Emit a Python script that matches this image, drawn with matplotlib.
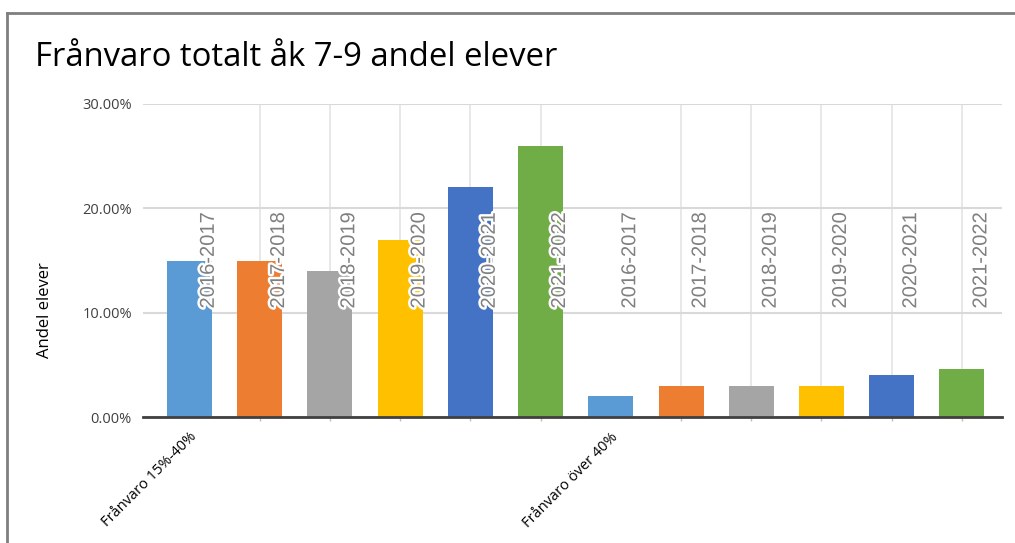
import numpy as np
import matplotlib
matplotlib.use("Agg")
import matplotlib.pyplot as plt
import matplotlib.patheffects as pe
from matplotlib.ticker import PercentFormatter

# data
categories = ["Frånvaro 15%-40%", "Frånvaro över 40%"]
years = ["2016-2017", "2017-2018", "2018-2019", "2019-2020", "2020-2021", "2021-2022"]
values_15_40 = [0.15, 0.15, 0.14, 0.17, 0.22, 0.26]
values_over_40 = [0.02, 0.03, 0.03, 0.03, 0.04, 0.046]
year_colors = ["#5B9BD5", "#ED7D31", "#A5A5A5", "#FFC000", "#4472C4", "#70AD47"]

plt.rcParams['font.family'] = ['Open Sans', 'DejaVu Sans']

fig = plt.figure(figsize=(10.15, 5.43), dpi=100)
ax = fig.add_axes([0.1409, 0.232, 0.8463, 0.5765])

all_values = values_15_40 + values_over_40
x = np.arange(len(all_values))
colors = year_colors * len(categories)
labels = years * len(categories)

ax.bar(x, all_values, width=0.64, color=colors, zorder=3)

# year labels drawn at a fixed height, like the Excel data labels
for xi, lab in zip(x, labels):
    ax.text(xi + 0.27, 0.104, lab, rotation=90, ha='center', va='bottom',
            fontsize=14.5, color='#808080', family='Liberation Sans', zorder=5,
            path_effects=[pe.withStroke(linewidth=3.5, foreground='white')])

ax.set_ylim(0, 0.30)
ax.set_xlim(-0.66, len(all_values) - 0.43)
ax.set_yticks([0, 0.10, 0.20, 0.30])
ax.yaxis.set_major_formatter(PercentFormatter(1.0, decimals=2))
ax.tick_params(axis='y', length=0, labelsize=10.5, labelcolor='#404040', pad=8)

# category labels at the first bar of each group, small ticks under every bar
ax.set_xticks([0, len(years)])
ax.set_xticklabels(categories, rotation=45, ha='right', rotation_mode='anchor',
                   fontsize=10.5, color='black')
ax.set_xticks(x, minor=True)
ax.tick_params(axis='x', which='major', length=0, pad=9)
ax.tick_params(axis='x', which='minor', length=3, color='#bfbfbf', width=1)

ax.grid(True, axis='y', color='#d9d9d9', linewidth=1.5, zorder=0)
ax.grid(True, axis='x', which='minor', color='#e6e6e6', linewidth=1.3, zorder=0)
ax.grid(False, axis='x', which='major')
ax.set_axisbelow(True)

for s in ['top', 'right', 'left']:
    ax.spines[s].set_visible(False)
ax.spines['bottom'].set_color('#404040')
ax.spines['bottom'].set_linewidth(2)
ax.spines['bottom'].set_zorder(4)

fig.text(35 / 1015, 1 - 58 / 543, "Frånvaro totalt åk 7-9 andel elever",
         fontsize=23.7, va='center', ha='left', color='black')
fig.text(45 / 1015, 1 - 310 / 543, "Andel elever", rotation=90,
         fontsize=12, va='center', ha='center', color='black')

# frame around the chart area (right and bottom edges are cut off)
fig.add_artist(plt.Line2D([7 / 1015, 1], [1 - 12.5 / 543, 1 - 12.5 / 543],
                          transform=fig.transFigure, color='#7f7f7f', linewidth=2))
fig.add_artist(plt.Line2D([7 / 1015, 7 / 1015], [0, 1 - 12.5 / 543],
                          transform=fig.transFigure, color='#7f7f7f', linewidth=2))

fig.savefig("out.png", dpi=100)
